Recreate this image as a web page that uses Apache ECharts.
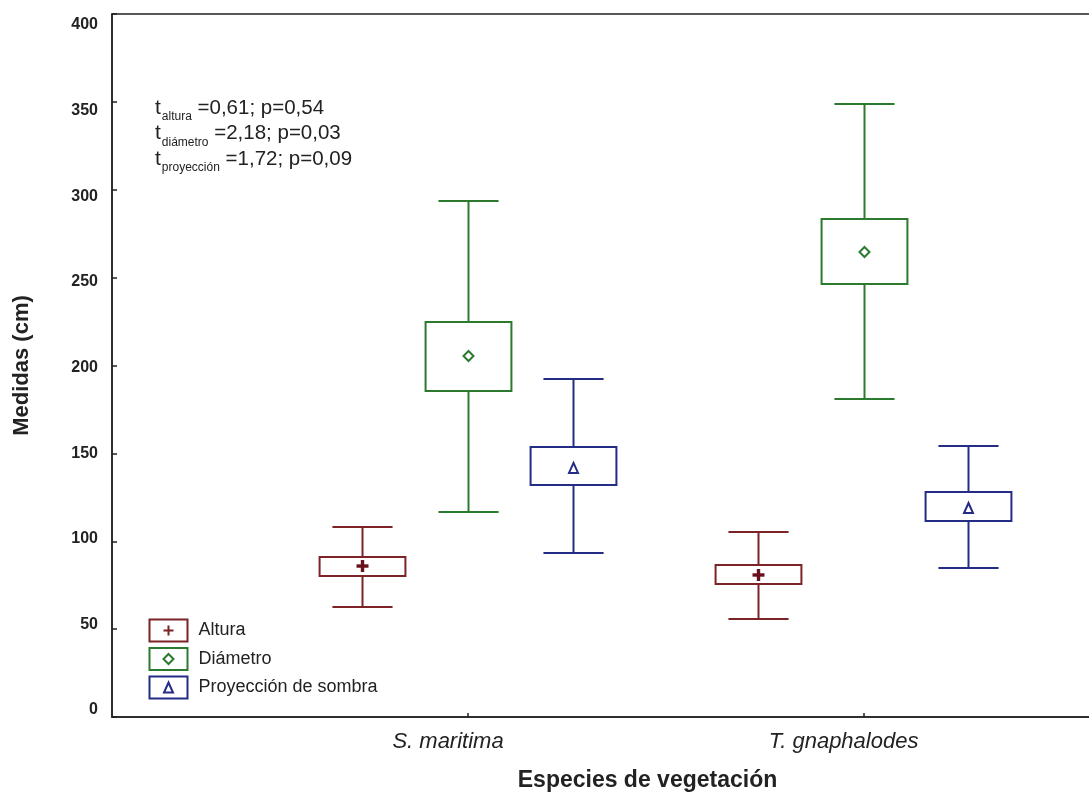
<!DOCTYPE html>
<html>
<head>
<meta charset="utf-8">
<script src="https://cdn.jsdelivr.net/npm/echarts@6/dist/echarts.min.js"></script>
<style>
html,body{margin:0;padding:0;background:#fff;}
#chart{width:1089px;height:792px;}
</style>
</head>
<body>
<div id="chart"></div>
<script>
// ---- data ----
var categories = ['S. maritima', 'T. gnaphalodes'];
var seriesNames = ['Altura', 'Diámetro', 'Proyección de sombra'];
var yTicks = [0, 50, 100, 150, 200, 250, 300, 350, 400];

var alturaMean      = [85.9, 80.8];
var alturaBoxLow    = [80.2, 75.7];
var alturaBoxHigh   = [91.0, 86.5];
var alturaWhiskLow  = [62.6, 55.8];
var alturaWhiskHigh = [108.1, 105.3];

var diametroMean      = [205.4, 264.6];
var diametroBoxLow    = [185.5, 246.4];
var diametroBoxHigh   = [224.8, 283.4];
var diametroWhiskLow  = [116.6, 180.9];
var diametroWhiskHigh = [293.6, 348.8];

var proyMean      = [141.7, 118.9];
var proyBoxLow    = [132.0, 111.5];
var proyBoxHigh   = [153.6, 128.0];
var proyWhiskLow  = [93.3, 84.8];
var proyWhiskHigh = [192.3, 154.2];

var statLines = [
  ['altura', '=0,61; p=0,54'],
  ['diámetro', '=2,18; p=0,03'],
  ['proyección', '=1,72; p=0,09']
];

// ---- styling / layout ----
var colors = ['#7b2327', '#2b7a2e', '#252c86'];
var markerColors = ['#6a0f1c', '#2b7a2e', '#252c86'];
var offsets = [-0.267, 0, 0.265];
var FONT = '"Liberation Sans", Arial, Helvetica, sans-serif';

function build(mean, bl, bh, wl, wh, k) {
  return categories.map(function (c, i) {
    return [i + 1 + offsets[k], wl[i], bl[i], mean[i], bh[i], wh[i]];
  });
}
var seriesData = [
  build(alturaMean, alturaBoxLow, alturaBoxHigh, alturaWhiskLow, alturaWhiskHigh, 0),
  build(diametroMean, diametroBoxLow, diametroBoxHigh, diametroWhiskLow, diametroWhiskHigh, 1),
  build(proyMean, proyBoxLow, proyBoxHigh, proyWhiskLow, proyWhiskHigh, 2)
];

function renderItem(params, api) {
  var k = params.seriesIndex;
  var x = api.value(0);
  var pWL = api.coord([x, api.value(1)]);
  var pBL = api.coord([x, api.value(2)]);
  var pM  = api.coord([x, api.value(3)]);
  var pBH = api.coord([x, api.value(4)]);
  var pWH = api.coord([x, api.value(5)]);
  var cx = Math.round(pM[0]) + 0.5;
  var boxW = api.size([0.217, 0])[0];
  var capW = api.size([0.152, 0])[0];
  var st = { stroke: colors[k], lineWidth: 2, fill: null };
  var children = [
    { type: 'line', shape: { x1: cx - capW / 2, y1: pWH[1], x2: cx + capW / 2, y2: pWH[1] }, style: st },
    { type: 'line', shape: { x1: cx, y1: pWH[1], x2: cx, y2: pBH[1] }, style: st },
    { type: 'rect', shape: { x: cx - boxW / 2, y: pBH[1], width: boxW, height: pBL[1] - pBH[1] }, style: { stroke: colors[k], lineWidth: 2, fill: '#fff' } },
    { type: 'line', shape: { x1: cx, y1: pBL[1], x2: cx, y2: pWL[1] }, style: st },
    { type: 'line', shape: { x1: cx - capW / 2, y1: pWL[1], x2: cx + capW / 2, y2: pWL[1] }, style: st }
  ];
  var my = pM[1];
  if (k === 0) {
    children.push({ type: 'rect', shape: { x: cx - 6, y: my - 1.7, width: 12, height: 3.4 }, style: { fill: markerColors[0] } });
    children.push({ type: 'rect', shape: { x: cx - 1.7, y: my - 6, width: 3.4, height: 12 }, style: { fill: markerColors[0] } });
  } else if (k === 1) {
    children.push({ type: 'polygon', shape: { points: [[cx, my - 5], [cx + 5, my], [cx, my + 5], [cx - 5, my]] }, style: { stroke: markerColors[1], lineWidth: 2, fill: null } });
  } else {
    children.push({ type: 'polygon', shape: { points: [[cx, my - 5], [cx + 4.5, my + 5], [cx - 4.5, my + 5]] }, style: { stroke: markerColors[2], lineWidth: 2, fill: null } });
  }
  return { type: 'group', children: children };
}

var legendIcons = [
  'path://M0,0H38V22H0Z M19,6V16 M14,11H24',
  'path://M0,0H38V22H0Z M19,6L24,11L19,16L14,11Z',
  'path://M0,0H38V22H0Z M19,6L23.5,16H14.5Z'
];

var graphics = statLines.map(function (l, i) {
  return {
    type: 'text',
    left: 155,
    top: 93 + i * 25.5,
    style: {
      text: '{t|t}{s|' + l[0] + '}{m| ' + l[1] + '}',
      rich: {
        t: { fontSize: 21, lineHeight: 24, fontFamily: FONT, fill: '#222' },
        s: { fontSize: 12, lineHeight: 14, padding: [18, 0, 0, 1], fontFamily: FONT, fill: '#222' },
        m: { fontSize: 20.5, lineHeight: 24, fontFamily: FONT, fill: '#222' }
      }
    }
  };
});

var chart = echarts.init(document.getElementById('chart'));
chart.setOption({
  backgroundColor: '#fff',
  animation: false,
  grid: { left: 112, top: 14, bottom: 75, right: -8, show: true, borderColor: '#222', borderWidth: 1.5, backgroundColor: 'transparent', outerBoundsMode: 'none', containLabel: false },
  legend: {
    orient: 'vertical',
    left: 147,
    top: 617,
    padding: 0,
    itemWidth: 38,
    itemHeight: 22,
    itemGap: 1.5,
    textStyle: { fontSize: 18, lineHeight: 20, fontFamily: FONT, color: '#222', padding: [0, 0, 0, 6] },
    data: seriesNames.map(function (n, k) {
      return { name: n, icon: legendIcons[k], itemStyle: { color: 'none', borderColor: colors[k], borderWidth: 2 } };
    })
  },
  xAxis: {
    type: 'value',
    min: 0.1,
    max: 2.59,
    splitLine: { show: false },
    axisLine: { show: true, onZero: false, lineStyle: { color: '#222', width: 1.5 } },
    axisTick: { show: true, inside: true, length: 4, customValues: [1, 2], lineStyle: { color: '#222', width: 1.5 } },
    axisLabel: {
      customValues: [1, 2],
      formatter: function (v) { return categories[Math.round(v) - 1]; },
      fontSize: 22, fontStyle: 'italic', fontFamily: FONT, color: '#222', margin: 14,
      padding: [0, 40, 0, 0]
    },
    name: 'Especies de vegetación',
    nameLocation: 'middle',
    nameGap: 52,
    nameTextStyle: { fontSize: 23, fontWeight: 'bold', fontFamily: FONT, color: '#222', padding: [0, 0, 0, 86] }
  },
  yAxis: [{
    type: 'value',
    min: yTicks[0],
    max: yTicks[yTicks.length - 1],
    interval: 50,
    splitLine: { show: false },
    axisLine: { show: true, lineStyle: { color: '#222', width: 1.5 } },
    axisTick: { show: true, inside: true, length: 5, lineStyle: { color: '#222', width: 1.5 } },
    axisLabel: { show: false },
    name: 'Medidas (cm)',
    nameLocation: 'middle',
    nameGap: 79,
    nameTextStyle: { fontSize: 22, fontWeight: 'bold', fontFamily: FONT, color: '#222' }
  }, {
    // label-only axis: the reference prints its tick labels on a slightly compressed scale
    type: 'value',
    position: 'left',
    min: -4.09,
    max: 406.42,
    splitLine: { show: false },
    axisLine: { show: false },
    axisTick: { show: false },
    axisLabel: {
      customValues: yTicks,
      fontSize: 16, fontWeight: 'bold', fontFamily: FONT, color: '#222', margin: 14
    }
  }],
  graphic: graphics,
  series: seriesNames.map(function (n, k) {
    return {
      type: 'custom',
      name: n,
      renderItem: renderItem,
      encode: { x: 0, y: [1, 2, 3, 4, 5] },
      itemStyle: { color: colors[k] },
      data: seriesData[k],
      clip: false
    };
  })
});
</script>
</body>
</html>
